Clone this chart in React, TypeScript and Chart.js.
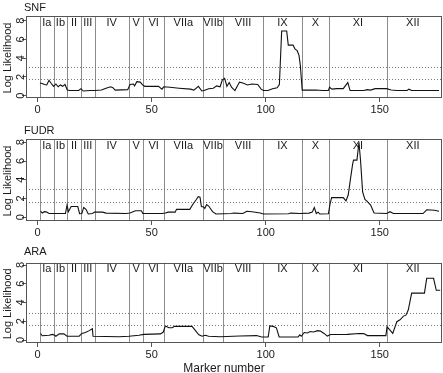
import React, { useEffect, useRef } from "react";
import { Chart, registerables } from "chart.js";

Chart.register(...registerables);

const W = 443;
const H = 373;
const FONT = "'Liberation Sans', Arial, Helvetica, sans-serif";

// ---- data ----
const chromNames = ["Ia", "Ib", "II", "III", "IV", "V", "VI", "VIIa", "VIIb", "VIII", "IX", "X", "XI", "XII"];
const chromStarts = [1, 7, 13, 19, 25, 40, 46.3, 55.4, 72.4, 81.4, 98.8, 115.8, 127.9, 153];
const lastMarker = 176;
const xTicks = [0, 50, 100, 150];
const yTicks = [0, 2, 4, 6, 8];

const snfX = [1, 2, 3, 4, 5, 6, 7, 8, 9, 10, 11, 12, 13, 14, 18, 19, 20, 23, 25, 28, 30, 32, 33, 34, 39.5, 40.5, 42, 42.5, 43.5, 45, 46, 47, 53, 54.5, 55.3, 58, 62, 67, 68.5, 70.5, 72, 73, 75, 77, 78.5, 80, 81, 82, 83, 84, 85, 86.5, 88.5, 90, 92, 94, 96.5, 98, 99, 101, 103, 105, 106, 107, 109.2, 109.9, 112, 112.8, 113.8, 114.6, 115.2, 116, 118, 122, 125, 127.5, 128, 129, 131, 134, 136, 137, 143, 144.5, 146, 148, 153, 155, 157.5, 162, 162.8, 164, 176];
const snfY = [1.35, 1.3, 1.2, 1.15, 1.65, 1.3, 1.0, 1.25, 0.95, 1.15, 1.0, 1.2, 0.6, 0.55, 0.55, 0.75, 0.5, 0.55, 0.55, 0.6, 0.8, 0.95, 0.85, 0.6, 0.65, 1.2, 1.25, 1.05, 1.5, 1.45, 1.15, 1.0, 1.0, 0.7, 0.95, 0.9, 0.8, 0.7, 0.6, 1.0, 0.5, 0.55, 0.75, 0.8, 1.05, 0.95, 1.7, 1.85, 1.0, 1.4, 0.9, 0.55, 1.45, 1.35, 1.15, 1.25, 1.2, 0.7, 0.55, 0.55, 0.75, 0.85, 1.2, 6.9, 6.9, 5.4, 5.4, 5.0, 4.8, 4.3, 3.2, 0.6, 0.6, 0.6, 0.55, 0.55, 0.9, 0.7, 0.75, 0.75, 1.4, 0.55, 0.55, 0.65, 0.6, 0.75, 0.75, 0.6, 0.55, 0.55, 0.7, 0.55, 0.55];

const fudrX = [1.3, 2, 3, 4, 5, 12.2, 12.9, 13.5, 14.7, 17.6, 18.4, 19.4, 20.2, 21.2, 22.2, 24, 25, 28.5, 30, 38.8, 40.5, 42.9, 45.5, 46.1, 54.6, 56, 57.3, 60.3, 60.9, 66.7, 68.2, 69.6, 70.4, 71.2, 71.8, 72.8, 73.3, 74.1, 75, 76.7, 78.2, 85, 86, 90, 91.7, 94, 97.6, 99, 110, 111, 115, 119, 120.4, 121.3, 122.2, 123, 123.7, 127.5, 128.2, 128.9, 134, 135.2, 136.2, 137.2, 138.1, 138.5, 140, 140.9, 141.6, 142.5, 143.5, 144.5, 146, 147.5, 153, 154.5, 156, 169, 170.6, 174, 176];
const fudrY = [0.67, 0.45, 0.6, 0.55, 0.4, 0.4, 1.3, 0.6, 1.15, 1.15, 0.38, 0.4, 1.05, 0.85, 0.35, 0.4, 0.55, 0.55, 0.45, 0.4, 0.45, 0.7, 0.7, 0.4, 0.4, 0.45, 0.55, 0.55, 0.85, 0.85, 1.45, 1.9, 2.2, 2.15, 1.15, 1.1, 0.95, 1.35, 1.2, 0.6, 0.35, 0.4, 0.45, 0.4, 0.65, 0.6, 0.45, 0.35, 0.38, 0.45, 0.4, 0.45, 0.55, 1.05, 0.4, 0.55, 0.35, 0.38, 1.4, 2.1, 2.1, 1.75, 2.4, 4.15, 5.65, 6.1, 6.1, 8.0, 6.0, 2.7, 1.9, 1.7, 1.3, 0.45, 0.4, 0.6, 0.4, 0.4, 0.8, 0.75, 0.65];

const araX = [1.3, 2, 5, 6.5, 7.5, 8, 9.5, 11.5, 12.9, 18.2, 19.4, 21, 22.6, 24, 24.3, 35.7, 40, 44.4, 46.6, 53.9, 55.1, 56, 57.6, 59, 60, 67.7, 70.7, 72.1, 73.5, 75, 80, 83, 88.7, 96, 98.2, 101.1, 101.8, 103.3, 104.7, 105.9, 114.2, 114.9, 115.6, 116.9, 118.3, 119.5, 121, 122.7, 124, 125.6, 127, 128.5, 135.8, 140.9, 143, 144.6, 152.7, 153.2, 154.5, 155.7, 157.5, 158.9, 160.4, 161.5, 162.5, 164, 169.6, 170.6, 173.6, 174.8, 176.5];
const araY = [0.7, 0.45, 0.5, 0.6, 0.5, 0.4, 0.65, 0.65, 0.4, 0.4, 0.7, 0.8, 1.0, 1.2, 0.4, 0.35, 0.4, 0.5, 0.6, 0.65, 0.85, 1.5, 1.3, 1.3, 1.45, 1.45, 0.55, 0.4, 0.5, 0.4, 0.35, 0.38, 0.42, 0.47, 0.32, 0.32, 1.5, 1.45, 1.3, 0.32, 0.32, 0.55, 0.4, 0.8, 0.75, 0.9, 0.85, 1.0, 0.95, 0.7, 0.42, 0.58, 0.6, 0.7, 0.68, 0.47, 0.47, 1.4, 1.05, 0.7, 1.95, 2.15, 2.55, 2.65, 3.2, 5.0, 5.0, 6.58, 6.58, 5.3, 5.3];

const snfThresholds = [1.75, 3.1];
const fudrThresholds = [1.65, 3.0];
const araThresholds = [1.55, 2.9];

// ---- layout (pixels) ----
const panels = [
  { title: "SNF", xs: snfX, ys: snfY, thr: snfThresholds, top: 16, bottom: 98, zero: 95.7, titleBase: 10.5, xTitle: false },
  { title: "FUDR", xs: fudrX, ys: fudrY, thr: fudrThresholds, top: 139, bottom: 221, zero: 217.3, titleBase: 133.5, xTitle: false },
  { title: "ARA", xs: araX, ys: araY, thr: araThresholds, top: 262.7, bottom: 343, zero: 340, titleBase: 255, xTitle: true },
];
const PX_PER_UNIT = 9.375;
const PLOT_LEFT = 26;
const PLOT_RIGHT = 442;
const XMIN = -5.1;
const XMAX = 177.3;

function makeChart(canvas: HTMLCanvasElement, p: any) {
  const ymin = -(p.bottom - p.zero) / PX_PER_UNIT;
  const ymax = (p.zero - p.top) / PX_PER_UNIT;
  const decor = {
    id: "decor",
    beforeDatasetsDraw(chart: any) {
      const { ctx, chartArea: a, scales } = chart;
      const x = scales.x, y = scales.y;
      ctx.save();
      ctx.strokeStyle = "#8c8c8c";
      ctx.lineWidth = 1;
      chromStarts.forEach((m) => {
        const px = Math.round(x.getPixelForValue(m)) + 0.5;
        ctx.beginPath();
        ctx.moveTo(px, a.top);
        ctx.lineTo(px, a.bottom);
        ctx.stroke();
      });
      ctx.setLineDash([1, 2]);
      ctx.strokeStyle = "#777";
      p.thr.forEach((v: number) => {
        const py = Math.round(y.getPixelForValue(v)) + 0.5;
        ctx.beginPath();
        ctx.moveTo(a.left, py);
        ctx.lineTo(a.right, py);
        ctx.stroke();
      });
      ctx.restore();
    },
    afterDraw(chart: any) {
      const { ctx, chartArea: a, scales } = chart;
      const x = scales.x, y = scales.y;
      ctx.save();
      // box
      ctx.strokeStyle = "#555";
      ctx.lineWidth = 1;
      ctx.strokeRect(Math.round(a.left) + 0.5, Math.round(a.top) + 0.5, Math.round(a.right - a.left) - 1, Math.round(a.bottom - a.top) - 1);
      ctx.fillStyle = "#1a1a1a";
      // chromosome labels
      ctx.font = `11px ${FONT}`;
      ctx.textAlign = "center";
      ctx.textBaseline = "alphabetic";
      chromNames.forEach((name, i) => {
        const s = chromStarts[i];
        const e = i + 1 < chromStarts.length ? chromStarts[i + 1] : lastMarker;
        ctx.fillText(name, x.getPixelForValue((s + e) / 2), a.top + 9.5);
      });
      // panel title
      ctx.textAlign = "left";
      ctx.fillText(p.title, 24, p.titleBase);
      // y tick labels (rotated)
      yTicks.forEach((v) => {
        ctx.save();
        ctx.translate(20.5, y.getPixelForValue(v));
        ctx.rotate(-Math.PI / 2);
        ctx.textAlign = "center";
        ctx.textBaseline = "middle";
        ctx.fillText(String(v), 0, 0);
        ctx.restore();
      });
      // y axis title
      ctx.save();
      ctx.translate(7.5, (a.top + a.bottom) / 2 + 1);
      ctx.rotate(-Math.PI / 2);
      ctx.textAlign = "center";
      ctx.textBaseline = "middle";
      ctx.fillText("Log Likelihood", 0, 0);
      ctx.restore();
      if (p.xTitle) {
        ctx.font = `12px ${FONT}`;
        ctx.textAlign = "center";
        ctx.textBaseline = "alphabetic";
        ctx.fillText("Marker number", 224, 371.5);
      }
      ctx.restore();
    },
  };

  return new Chart(canvas, {
    type: "line",
    data: {
      datasets: [
        {
          data: p.xs.map((v: number, i: number) => ({ x: v, y: p.ys[i] })),
          borderColor: "#111",
          borderWidth: 1.1,
          pointRadius: 0,
          tension: 0,
          fill: false,
        },
      ],
    },
    options: {
      responsive: false,
      animation: false,
      devicePixelRatio: 1,
      events: [],
      layout: { padding: { left: 0, right: W - PLOT_RIGHT, top: p.top, bottom: 0 } },
      plugins: { legend: { display: false }, tooltip: { enabled: false }, title: { display: false } },
      scales: {
        x: {
          type: "linear",
          min: XMIN,
          max: XMAX,
          afterBuildTicks: (s: any) => {
            s.ticks = xTicks.map((v) => ({ value: v }));
          },
          afterFit: (s: any) => {
            s.height = H - p.bottom;
          },
          grid: { display: true, drawOnChartArea: false, drawTicks: true, tickLength: 4, color: "#555" },
          border: { display: false },
          ticks: { font: { family: FONT, size: 11 }, color: "#1a1a1a", padding: 1, maxRotation: 0, autoSkip: false },
        },
        y: {
          type: "linear",
          min: ymin,
          max: ymax,
          afterBuildTicks: (s: any) => {
            s.ticks = yTicks.map((v) => ({ value: v }));
          },
          afterFit: (s: any) => {
            s.width = PLOT_LEFT;
          },
          grid: { display: true, drawOnChartArea: false, drawTicks: true, tickLength: 4, color: "#555" },
          border: { display: false },
          ticks: { font: { family: FONT, size: 11 }, color: "rgba(0,0,0,0)", padding: 1 },
        },
      },
    },
    plugins: [decor],
  } as any);
}

export default function App() {
  const refs = [useRef<HTMLCanvasElement>(null), useRef<HTMLCanvasElement>(null), useRef<HTMLCanvasElement>(null)];
  useEffect(() => {
    const charts = panels.map((p, i) => makeChart(refs[i].current as HTMLCanvasElement, p));
    return () => charts.forEach((c) => c.destroy());
  }, []);
  return (
    <div style={{ position: "absolute", left: 0, top: 0, width: W, height: H, background: "#fff", overflow: "hidden" }}>
      {panels.map((p, i) => (
        <canvas
          key={p.title}
          ref={refs[i]}
          width={W}
          height={H}
          style={{ position: "absolute", left: 0, top: 0, width: W, height: H }}
        />
      ))}
    </div>
  );
}
